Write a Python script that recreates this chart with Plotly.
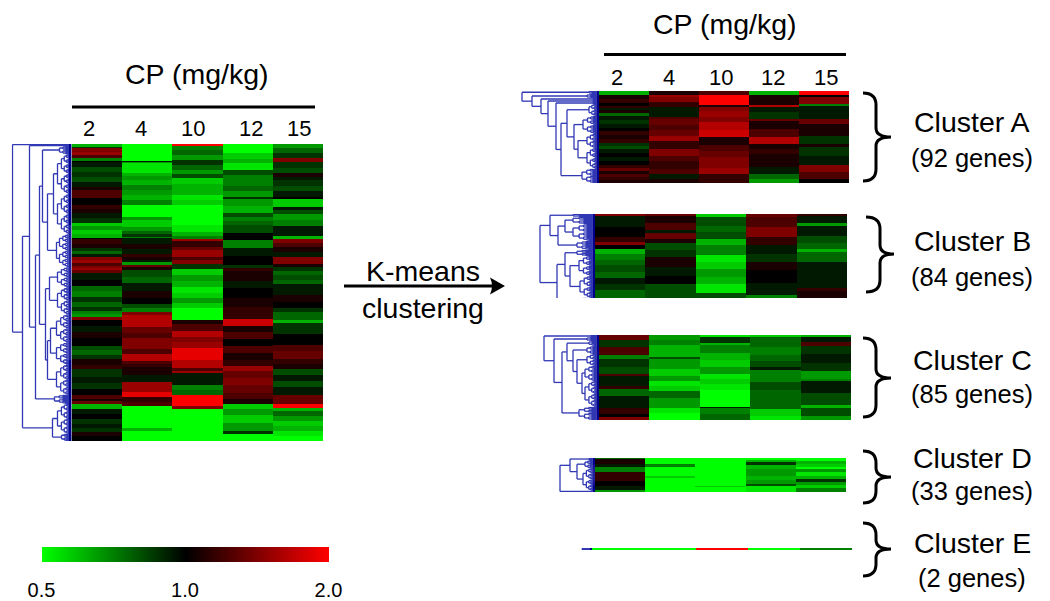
import numpy as np
import plotly.graph_objects as go

W, H = 1050, 601
doses = ["2", "4", "10", "12", "15"]
scale_labels = ["0.5", "1.0", "2.0"]
scale_ticks = [-10, 0, 10]          # 10*log2(ratio)

# ---- values: each column is (gene count, 10*log2 ratio) runs, top to bottom
main_2 = [(3,-7),(1,-2),(4,5),(3,6),(3,3),(3,-5),(1,0),(5,-1),(5,-3),(5,-2),(5,-3),(5,-1),(3,1),(8,3),(7,0),(4,2),(4,1),(5,-1),(5,-2),
          (3,-8),(4,-6),(4,-8),(4,-7),(1,0),(5,2),(4,1),(3,-2),(3,-4),(3,-1),(3,5),(3,6),(3,3),(2,5),(2,6),(3,4),(7,-1),(6,0),(5,-4),(5,-5),
          (5,-2),(5,-4),(4,-2),(3,-5),(3,-6),(3,5),(6,0),(6,-1),(6,1),(8,0),(4,-3),(5,-4),(4,-2),(6,1),(4,2),(8,-2),(6,-1),(6,-2),(6,0),
          (4,3),(2,1),(3,4),(5,-7),(5,-1),(5,0),(5,-2),(4,-1),(4,-2),(4,1),(5,0)]
main_4 = [(17,-10),(1,-1),(1,-6),(10,-9),(3,-7),(4,-6),(5,-7),(5,-5),(5,-6),(5,-7),(5,-5),(12,-10),(3,-6),(3,-8),(4,-8),(4,-6),(3,-4),(3,-2),(1,-5),
          (6,-1),(5,1),(5,-1),(3,2),(3,1),(2,-1),(3,-6),(2,4),(3,1),(7,-3),(6,-4),(8,-1),(6,1),(6,0),(4,-3),(4,-5),(3,5),(4,7),(8,7),(6,4),(5,3),(6,5),
          (5,5),(5,3),(7,7),(3,3),(3,2),(8,1),(7,-1),(10,6),(5,9),(5,2),(4,3),(22,-10),(3,-7),(7,-10)]
main_10 = [(2,10),(4,-5),(5,-4),(5,-6),(5,-2),(5,-4),(4,-6),(4,-3),(6,-8),(6,-7),(5,-7),(5,-9),(5,-8),(20,-10),(7,-9),(4,-7),(3,-5),(2,6),(6,2),
           (3,4),(7,6),(3,3),(4,5),(5,-2),(6,-8),(6,-6),(6,-7),(5,-9),(5,-8),(5,-6),(5,-8),(12,-10),(4,1),(7,3),(6,7),(5,5),(6,6),(12,9),(8,7),(3,3),(2,6),
           (12,-1),(5,-5),(5,-4),(11,10),(3,5),(33,-10)]
main_12 = [(9,-10),(6,-8),(4,-7),(7,-9),(5,-3),(5,-5),(6,-5),(5,-4),(6,-6),(2,-2),(7,-6),(7,-7),(4,-3),(4,-5),(4,-4),(8,-3),(7,0),(8,-5),(8,-1),(9,0),(3,-2),
           (3,2),(4,1),(6,1),(7,-1),(9,0),(9,1),(9,2),(3,2),(7,8),(6,1),(7,3),(7,0),(7,3),(7,1),(6,2),(5,6),(7,4),(7,5),(8,4),(6,3),(5,1),(5,-8),(6,-6),(8,-8),(8,-6),(3,-2),(7,-10)]
main_15 = [(4,-6),(5,-4),(5,-2),(4,5),(6,-2),(5,-3),(4,1),(3,-1),(6,-2),(5,-3),(6,-1),(2,0),(8,-8),(3,-1),(4,-3),(6,-6),(6,-5),(10,-1),(3,-7),(4,5),(4,3),(5,1),(5,-1),
           (7,5),(3,1),(4,-2),(4,-4),(5,-3),(4,-4),(10,-1),(7,1),(6,0),(4,-2),(8,-4),(3,-7),(11,-2),(11,0),(6,3),(8,4),(5,2),(5,1),(6,-3),(6,-1),(6,-3),(8,-1),(9,4),(4,10),
           (3,-7),(5,-4),(5,-6),(5,-8),(5,-7),(5,-9),(3,-10)]

a_2 = [(4,-7),(4,1),(4,2),(3,0),(2,2),(2,-1),(3,1),(3,-4),(4,-1),(4,-2),(4,-1),(3,0),(4,2),(4,1),(4,2),(3,-2),(3,-3),(4,-1),(4,0),(4,-1),(4,0),(3,2),(3,4),(3,1),(3,3),(3,2),(2,1)]
a_4 = [(4,1),(2,6),(5,5),(5,2),(10,-1),(2,3),(6,4),(5,3),(6,4),(5,6),(8,2),(7,5),(5,3),(8,2),(5,3),(5,-1),(5,1)]
a_10 = [(4,3),(10,10),(2,1),(4,5),(6,6),(5,5),(8,7),(7,8),(8,1),(6,3),(6,4),(11,5),(6,6),(10,2)]
a_12 = [(4,-7),(10,1),(2,7),(5,-1),(7,-2),(2,4),(8,1),(8,3),(7,7),(5,1),(5,2),(13,1),(7,-1),(5,-4),(5,-6)]
a_15 = [(4,10),(2,0),(7,5),(2,-5),(13,-1),(5,4),(12,1),(8,-2),(3,1),(9,-2),(9,-1),(7,5),(7,3),(3,0)]

b_2 = [(2,5),(11,-1),(10,0),(5,2),(3,5),(4,0),(5,-7),(6,-5),(5,-4),(7,-3),(6,-4),(6,-1),(6,-2),(7,-4)]
b_4 = [(2,4),(7,1),(7,3),(3,-1),(6,4),(4,1),(7,-3),(7,-2),(10,1),(9,-1),(8,0),(15,-3)]
b_10 = [(3,-8),(9,-3),(6,-4),(7,-3),(6,-7),(10,-5),(7,-9),(7,-8),(8,-6),(7,-7),(9,-9),(5,-3)]
b_12 = [(3,4),(10,3),(10,5),(8,2),(9,-1),(8,-2),(8,1),(13,0),(12,-1),(3,-5)]
b_15 = [(2,2),(7,-1),(3,-6),(10,-1),(7,-3),(6,-4),(3,-7),(10,-4),(13,-1),(13,-1),(3,2),(5,1)]

c_2 = [(5,4),(7,-2),(8,3),(4,-5),(8,-2),(7,-3),(2,3),(10,-1),(3,2),(7,-4),(12,-1),(6,2),(3,0),(5,5)]
c_4 = [(5,-6),(5,-5),(12,-7),(2,-3),(10,-6),(7,-8),(5,-6),(5,-9),(5,-8),(7,-4),(10,-6),(5,-9),(8,-10)]
c_10 = [(2,-9),(6,-2),(2,-7),(8,-5),(7,-7),(7,-8),(7,-6),(5,-9),(5,-8),(6,-9),(7,-10),(10,-10),(1,-1),(6,-5),(6,-4)]
c_12 = [(2,-8),(10,-4),(8,-5),(6,-4),(6,-3),(3,-1),(12,-5),(8,-3),(7,-4),(12,-4),(7,-8),(6,-9)]
c_15 = [(2,-7),(5,-1),(4,3),(8,-2),(9,-1),(8,-2),(8,-6),(2,-5),(12,-1),(12,-3),(3,-7),(8,-3),(2,-6)]

d_2 = [(1,-4),(5,1),(3,-1),(5,-5),(8,2),(5,0),(4,-1),(2,-6)]
d_4 = [(6,-10),(3,-5),(8,-10),(2,-8),(14,-10)]
d_10 = [(27,-10),(1,-8),(5,-10)]
d_12 = [(2,-10),(2,-7),(3,-2),(4,-7),(6,-6),(4,-7),(4,-6),(2,-3),(6,-9)]
d_15 = [(3,-10),(3,-7),(3,-8),(2,-10),(3,-6),(3,-9),(3,-7),(3,-2),(3,-6),(3,-8),(3,-5)]

e_2 = [(2,-10)]
e_4 = [(2,-10)]
e_10 = [(2,10)]
e_12 = [(2,-10)]
e_15 = [(2,-5)]

gene_counts = dict(main=296, a=92, b=84, c=85, d=33, e=2)

# ---- dendrograms: (distance, upper, lower) merges; (n, distance) a small sub-tree of n genes
main_tree = (59,(1,0),(49,(42,(1,0),(36,(32,(29,(8,12),(24,(18,(40,14),(40,14)),(15,(16,12),(17,12)))),
                                              (26,(22,(20,14),(27,14)),(24,(21,(28,15),(22,15)),(30,15)))),(9,17))),
                     (19,(30,14),(7,10))))
a_tree = (77,(3,10),(67,(4,12),(58,(2,6),(51,(2,6),(43,(2,6),(38,(32,(12,10),(25,(18,16),(21,(14,12),(21,12)))),(14,17)))))))
b_tree = (55,(45,(3,22),(37,(30,(7,22),(17,22)),(9,18))),(38,(30,(6,18),(25,(20,16),(22,15))),(6,17)))
c_tree = (55,(2,8),(45,(4,12),(37,(32,(5,10),(26,(8,12),(22,(12,12),(17,(15,14),(26,14))))),(13,20))))
d_tree = (35,(25,(2,6),(18,(8,10),(22,12))),(1,0))
e_tree = (10,(1,0),(1,0))

# ---- placement in pixels: heat left, top, right, bottom
blocks = [
    ("main", [main_2, main_4, main_10, main_12, main_15], main_tree, (71.5, 144, 323, 441)),
    ("a", [a_2, a_4, a_10, a_12, a_15], a_tree, (599, 91, 849, 183)),
    ("b", [b_2, b_4, b_10, b_12, b_15], b_tree, (595, 214, 847, 298)),
    ("c", [c_2, c_4, c_10, c_12, c_15], c_tree, (599, 335, 851, 420)),
    ("d", [d_2, d_4, d_10, d_12, d_15], d_tree, (595, 458, 846, 492)),
    ("e", [e_2, e_4, e_10, e_12, e_15], e_tree, (592, 548, 852, 550)),
]

BLUE = "#3038b4"
NAVY = "#000090"


def expand(col, n):
    v = np.repeat([r[1] for r in col], [r[0] for r in col]).astype(float)
    if len(v) >= n:
        return v[:n]
    return np.concatenate([v, np.full(n - len(v), v[-1])])


def bush(n, d):
    if n <= 1:
        return None
    a = n // 2
    return (d, bush(a, d * 0.72), bush(n - a, d * 0.72))


def walk(node, row, bx, by, lx, ly):
    """returns (y, distance, next row)"""
    if node is None:
        return row, 0.0, row + 1
    if len(node) == 2:
        if node[0] == 1:
            return row, 0.0, row + 1
        node = bush(*node)
    d = node[0]
    y1, d1, row = walk(node[1], row, bx, by, lx, ly)
    y2, d2, row = walk(node[2], row, bx, by, lx, ly)
    bx += [d, d, None]
    by += [y1, y2, None]
    for yc, dc in ((y1, d1), (y2, d2)):
        if dc == 0:
            bx += [d, 2.5, None]
            by += [yc, yc, None]
            lx += [2.5, 0, None]
            ly += [yc, yc, None]
        else:
            bx += [d, dc, None]
            by += [yc, yc, None]
    return (y1 + y2) / 2, d, row


fig = go.Figure()
axes = {}
for i, (name, cols, tree, (x0, y0, x1, y1)) in enumerate(blocks):
    n = gene_counts[name]
    hx, dx, ya = 2 * i + 1, 2 * i + 2, i + 1
    z = np.column_stack([expand(c, n) for c in cols])
    fig.add_trace(go.Heatmap(z=z, x=list(range(5)), y=list(range(n)), coloraxis="coloraxis",
                             xaxis=f"x{hx}", yaxis=f"y{ya}", hoverinfo="skip"))
    bx, by, lx, ly = [], [], [], []
    walk(tree, 0, bx, by, lx, ly)
    fig.add_trace(go.Scatter(x=bx, y=by, mode="lines", line=dict(color=BLUE, width=1.3),
                             xaxis=f"x{dx}", yaxis=f"y{ya}", hoverinfo="skip", showlegend=False))
    fig.add_trace(go.Scatter(x=lx, y=ly, mode="lines", line=dict(color=NAVY, width=1.3),
                             xaxis=f"x{dx}", yaxis=f"y{ya}", hoverinfo="skip", showlegend=False))
    dw = tree[0] + 1
    axes[f"xaxis{hx}"] = dict(domain=[x0 / W, x1 / W], range=[-0.5, 4.5], visible=False, anchor=f"y{ya}", fixedrange=True)
    axes[f"xaxis{dx}"] = dict(domain=[(x0 - dw) / W, x0 / W], range=[dw, 0], visible=False, anchor=f"y{ya}", fixedrange=True)
    axes[f"yaxis{ya}"] = dict(domain=[1 - y1 / H, 1 - y0 / H], range=[n - 0.5, -0.5], visible=False, anchor=f"x{hx}", fixedrange=True)


def px(x):
    return x / W


def py(y):
    return 1 - y / H


FONT = "Liberation Sans, Arial, sans-serif"
notes = []


def label(x, y, text, size):
    notes.append(dict(x=px(x), y=py(y), xref="paper", yref="paper", text=text, showarrow=False,
                      xanchor="center", yanchor="middle", font=dict(family=FONT, size=size, color="black")))


label(197, 74, "CP (mg/kg)", 28.5)
label(725, 24, "CP (mg/kg)", 28.5)
for t, x in zip(doses, (89, 141, 193, 251, 299)):
    label(x, 128, t, 22)
for t, x in zip(doses, (617, 669, 721, 773, 826)):
    label(x, 77, t, 22)
label(423, 271, "K-means", 28.5)
label(423, 308, "clustering", 28.5)
rows = [("Cluster A", "(92 genes)", 122, 158), ("Cluster B", "(84 genes)", 241, 277), ("Cluster C", "(85 genes)", 360, 394),
        ("Cluster D", "(33 genes)", 458, 491), ("Cluster E", "(2 genes)", 543, 578)]
for a, b, y1, y2 in rows:
    label(972, y1, a, 28.5)
    label(972, y2, b, 25.5)

shapes = []


def hline(x0, x1, y, w):
    shapes.append(dict(type="line", xref="paper", yref="paper", x0=px(x0), x1=px(x1), y0=py(y), y1=py(y),
                       line=dict(color="black", width=w)))


hline(72, 315, 107, 3)
hline(604, 846, 54.5, 3)
hline(344, 493, 286, 3)


def pt(x, y):
    return f"{px(x):.5f},{py(y):.5f}"


shapes.append(dict(type="path", xref="paper", yref="paper", fillcolor="black", line=dict(width=0),
                   path=f"M{pt(505,286)} L{pt(490,277.5)} Q{pt(494,286)} {pt(490,294.5)} Z"))


def brace(x0, sx, xt, y0, ym, y1):
    r = 12
    p = (f"M{pt(x0,y0)} Q{pt(sx,y0)} {pt(sx,y0+r)} L{pt(sx,ym-9)} Q{pt(sx,ym)} {pt(xt,ym)} "
         f"Q{pt(sx,ym)} {pt(sx,ym+9)} L{pt(sx,y1-r)} Q{pt(sx,y1)} {pt(x0,y1)}")
    shapes.append(dict(type="path", xref="paper", yref="paper", path=p, line=dict(color="black", width=3)))


brace(863, 876, 891, 93, 137, 181)
brace(866, 880, 894, 217, 254, 292)
brace(863, 876, 891, 338, 378, 417)
brace(863, 876, 891, 451, 477, 503)
brace(863, 876, 891, 523, 549, 576)

fig.update_layout(
    width=W, height=H, margin=dict(l=0, r=0, t=0, b=0), paper_bgcolor="white", plot_bgcolor="white",
    showlegend=False, annotations=notes, shapes=shapes,
    coloraxis=dict(
        cmin=-10, cmax=10,
        colorscale=[[0, "#00ff00"], [0.5, "#000000"], [1, "#ff0000"]],
        colorbar=dict(orientation="h", x=px(41.5), xanchor="left", y=py(547), yanchor="top", thickness=15,
                      len=286.5 / W, lenmode="fraction", outlinewidth=0, xpad=0, ypad=0,
                      tickvals=scale_ticks, ticktext=scale_labels, ticks="outside", ticklen=11,
                      tickcolor="rgba(0,0,0,0)", tickfont=dict(family=FONT, size=20, color="black")),
    ),
    **axes,
)
fig.write_html("out.html", config={"displayModeBar": False},
               post_script="document.body.style.margin='0';document.body.style.overflow='hidden';")
